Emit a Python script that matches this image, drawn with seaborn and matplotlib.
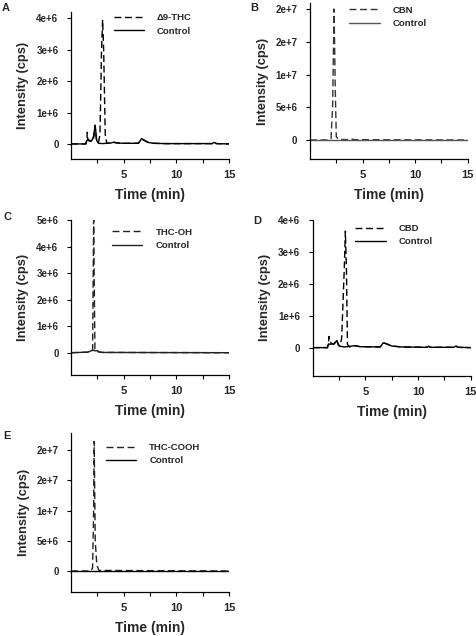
import matplotlib
matplotlib.use("Agg")
import matplotlib.pyplot as plt
import seaborn as sns
from matplotlib.ticker import FixedLocator, FuncFormatter

# ---------------- data (Intensity in cps, time in min) ----------------
# Panel A: delta9-THC
a_test_t = [0.0, 1.4, 1.5, 1.55, 1.6, 1.7, 1.9, 2.1, 2.2, 2.29, 2.4, 2.6, 2.75, 2.9, 3.0, 3.1, 3.25, 3.4,
            3.8, 4.0, 4.4, 5.0, 6.4, 6.7, 6.9, 7.3, 7.8, 9.0, 13.4, 13.6, 13.8, 15.0]
a_test_y = [0, 0, 0.12e6, 0.37e6, 0.12e6, 0.10e6, 0.08e6, 0.10e6, 0.30e6, 0.58e6, 0.15e6, 0.02e6, 0.30e6,
            3.0e6, 3.95e6, 3.0e6, 0.30e6, 0.02e6, 0.03e6, 0.06e6, 0.03e6, 0.02e6, 0.02e6, 0.15e6, 0.12e6,
            0.05e6, 0.02e6, 0.01e6, 0.01e6, 0.05e6, 0.01e6, 0]
a_ctrl_t = [0.0, 1.4, 1.5, 1.6, 1.8, 2.0, 2.15, 2.29, 2.45, 2.6, 3.0, 3.8, 4.0, 4.4, 5.0, 6.4, 6.7, 6.9,
            7.3, 7.8, 9.0, 13.4, 13.6, 13.8, 15.0]
a_ctrl_y = [0, 0, 0.10e6, 0.15e6, 0.10e6, 0.12e6, 0.25e6, 0.60e6, 0.10e6, 0.02e6, 0.01e6, 0.03e6, 0.05e6,
            0.03e6, 0.02e6, 0.02e6, 0.17e6, 0.13e6, 0.05e6, 0.02e6, 0.01e6, 0.01e6, 0.05e6, 0.01e6, 0]

# Panel B: CBN
b_test_t = [0.0, 1.8, 2.0, 2.15, 2.29, 2.4, 2.5, 2.7, 3.8, 4.0, 4.2, 15.0]
b_test_y = [0, 0, 0.2e6, 5.0e6, 2.0e7, 8.0e6, 0.5e6, 0.1e6, 0.05e6, 0.15e6, 0.05e6, 0]
b_ctrl_t = [0.0, 15.0]
b_ctrl_y = [0, 0]

# Panel C: THC-OH
c_test_t = [0.0, 1.6, 1.9, 2.05, 2.15, 2.27, 2.4, 2.6, 3.0, 15.0]
c_test_y = [0, 0.02e6, 0.08e6, 0.10e6, 5.0e6, 0.10e6, 0.06e6, 0.03e6, 0.01e6, 0]
c_ctrl_t = [0.0, 1.6, 1.9, 2.1, 2.3, 2.5, 2.7, 3.0, 15.0]
c_ctrl_y = [0, 0.02e6, 0.07e6, 0.09e6, 0.07e6, 0.08e6, 0.03e6, 0.01e6, 0]

# Panel D: CBD
d_test_t = [0.0, 1.4, 1.5, 1.55, 1.65, 1.8, 2.0, 2.2, 2.28, 2.4, 2.6, 2.75, 3.0, 3.1, 3.2, 3.3, 3.5,
            4.0, 4.5, 6.4, 6.7, 7.0, 7.5, 8.5, 10.8, 11.0, 11.2, 13.4, 13.6, 13.8, 15.0]
d_test_y = [0, 0, 0.15e6, 0.35e6, 0.20e6, 0.12e6, 0.12e6, 0.20e6, 0.25e6, 0.10e6, 0.05e6, 0.30e6, 2.5e6,
            3.65e6, 2.5e6, 0.10e6, 0.02e6, 0.06e6, 0.03e6, 0.02e6, 0.15e6, 0.12e6, 0.05e6, 0.02e6,
            0.01e6, 0.04e6, 0.01e6, 0.01e6, 0.05e6, 0.01e6, 0]
d_ctrl_t = [0.0, 1.4, 1.5, 1.6, 1.8, 2.0, 2.2, 2.3, 2.5, 3.0, 4.0, 4.5, 6.4, 6.7, 7.0, 7.5, 8.5, 10.8,
            11.0, 11.2, 13.4, 13.6, 13.8, 15.0]
d_ctrl_y = [0, 0, 0.12e6, 0.10e6, 0.12e6, 0.10e6, 0.18e6, 0.22e6, 0.05e6, 0.02e6, 0.06e6, 0.03e6, 0.02e6,
            0.15e6, 0.12e6, 0.05e6, 0.02e6, 0.01e6, 0.04e6, 0.01e6, 0.01e6, 0.05e6, 0.01e6, 0]

# Panel E: THC-COOH
e_test_t = [0.0, 1.9, 2.05, 2.15, 2.2, 2.3, 2.45, 2.65, 15.0]
e_test_y = [0, 0, 0.5e6, 1.0e7, 2.14e7, 5.0e6, 1.0e6, 0.1e6, 0]
e_ctrl_t = [0.0, 15.0]
e_ctrl_y = [0, 0]

panel_letters = ["A", "B", "C", "D", "E"]
test_labels = ["\u03949-THC", "CBN", "THC-OH", "CBD", "THC-COOH"]
ctrl_label = "Control"
x_major = [5, 10, 15]
x_minor = [2.5, 7.5, 12.5]
y_ticks = [[0, 1e6, 2e6, 3e6, 4e6],
           [0, 5e6, 1e7, 1.5e7, 2e7],
           [0, 1e6, 2e6, 3e6, 4e6, 5e6],
           [0, 1e6, 2e6, 3e6, 4e6],
           [0, 5e6, 1e7, 1.5e7, 2e7]]
y_lims = [(-0.48e6, 4.2e6), (-2.9e6, 2.087e7), (-0.84e6, 5.0e6), (-0.88e6, 4.0e6), (-3.42e6, 2.286e7)]

# ---------------- layout ----------------
sns.set_theme(style="ticks")
plt.rcParams["font.family"] = ["Liberation Sans", "DejaVu Sans"]
plt.rcParams["font.weight"] = "bold"

W, H = 477, 636
fig = plt.figure(figsize=(W / 100, H / 100), dpi=100)

# axes boxes in pixel coords: (left, top, right, bottom)
boxes = [(71, 12, 229, 159), (310, 3.3, 467.7, 159), (71, 220, 229, 375),
         (312.7, 220, 470.7, 375.7), (71, 432.7, 229, 591.7)]
letter_pos = [(2, 8), (250, 8), (3, 217), (253, 221), (3, 436)]
legend_anchor = [(0.27, 0.99), (0.25, 0.985), (0.26, 0.95), (0.27, 0.975), (0.22, 0.935)]
ctrl_colors = ["black", "#555555", "#222222", "black", "black"]
test_colors = ["black", "#333333", "#222222", "black", "#222222"]

data = [(a_test_t, a_test_y, a_ctrl_t, a_ctrl_y),
        (b_test_t, b_test_y, b_ctrl_t, b_ctrl_y),
        (c_test_t, c_test_y, c_ctrl_t, c_ctrl_y),
        (d_test_t, d_test_y, d_ctrl_t, d_ctrl_y),
        (e_test_t, e_test_y, e_ctrl_t, e_ctrl_y)]


def fmt(v, pos):
    if v == 0:
        return "0"
    s = "%.0e" % v
    m, e = s.split("e")
    return "%se%s%d" % (m, "+" if int(e) >= 0 else "-", abs(int(e)))


dash = (0, (5, 2.6))
for i, (l, t, r, b) in enumerate(boxes):
    ax = fig.add_axes([l / W, 1 - b / H, (r - l) / W, (b - t) / H])
    tt, ty, ct, cy = data[i]
    sns.lineplot(x=tt, y=ty, ax=ax, color=test_colors[i], lw=1.0, sort=False, estimator=None,
                 linestyle=dash)
    sns.lineplot(x=ct, y=cy, ax=ax, color=ctrl_colors[i], lw=1.0, sort=False, estimator=None)
    h_test = plt.Line2D([], [], color=test_colors[i], lw=1.0, linestyle=dash)
    h_ctrl = plt.Line2D([], [], color=ctrl_colors[i], lw=1.0)
    ax.legend([h_test, h_ctrl], [test_labels[i], ctrl_label], loc="upper left",
              bbox_to_anchor=legend_anchor[i], frameon=False, borderaxespad=0, borderpad=0,
              handlelength=3.2, handletextpad=1.4, labelspacing=0.45,
              prop={"size": 6.8, "weight": "bold"})
    ax.set_xlim(0, 15)
    ax.set_ylim(*y_lims[i])
    ax.xaxis.set_major_locator(FixedLocator(x_major))
    ax.xaxis.set_minor_locator(FixedLocator(x_minor))
    ax.yaxis.set_major_locator(FixedLocator(y_ticks[i]))
    ax.yaxis.set_major_formatter(FuncFormatter(fmt))
    ax.tick_params(axis="x", which="both", direction="out", length=3, width=0.8, pad=5,
                   labelsize=8, color="black")
    ax.tick_params(axis="y", which="both", direction="out", length=3, width=0.8, pad=6,
                   labelsize=7, color="black")
    for lab in ax.get_xticklabels() + ax.get_yticklabels():
        lab.set_fontweight("bold")
    sns.despine(ax=ax)
    for sp in ("left", "bottom"):
        ax.spines[sp].set_linewidth(0.9)
        ax.spines[sp].set_color("black")
    ax.set_xlabel("Time (min)", fontsize=10, fontweight="bold", labelpad=6)
    ax.set_ylabel("Intensity (cps)", fontsize=9.3, fontweight="bold", labelpad=5)
    fig.text(letter_pos[i][0] / W, 1 - letter_pos[i][1] / H, panel_letters[i], fontsize=8,
             fontweight="bold", ha="left", va="center")

fig.savefig("out.png", dpi=100, facecolor="white")
